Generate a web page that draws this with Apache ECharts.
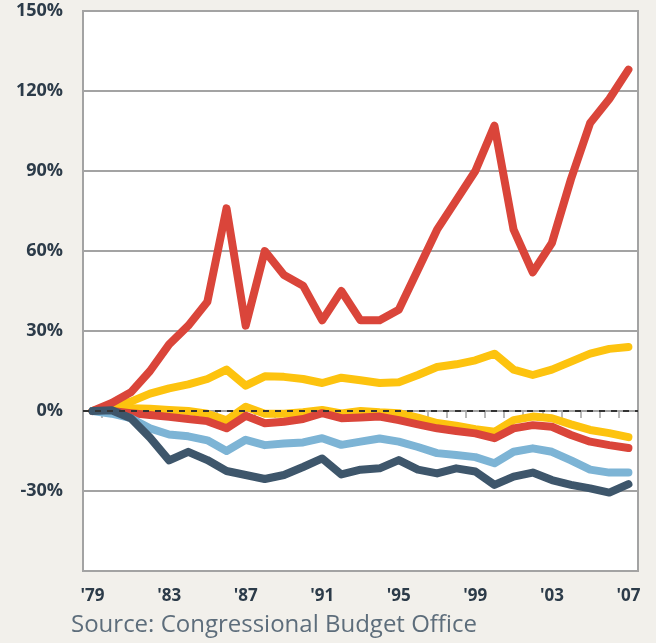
<!DOCTYPE html>
<html>
<head>
<meta charset="utf-8">
<script src="https://cdn.jsdelivr.net/npm/echarts@6/dist/echarts.min.js"></script>
<style>
  html, body { margin: 0; padding: 0; background: #f2f0eb; }
  #income-chart { width: 656px; height: 643px; }
</style>
</head>
<body>
<div id="income-chart"></div>
<script>
// years '79 - '07
var years = ["'79", "'80", "'81", "'82", "'83", "'84", "'85", "'86", "'87", "'88", "'89", "'90", "'91", "'92",
  "'93", "'94", "'95", "'96", "'97", "'98", "'99", "'00", "'01", "'02", "'03", "'04", "'05", "'06", "'07"];

var yTicks = [-60, -30, 0, 30, 60, 90, 120, 150];

// change since 1979, in percent
var redTop = [0, 3, 7, 15, 25, 32, 41, 76, 32, 60, 51, 47, 34, 45, 34, 34, 38, 53, 68, 79, 90, 107, 68, 52, 63, 87, 108, 117, 128];
var yellowTop = [0, 1.5, 3.5, 6.5, 8.5, 10, 12, 15.5, 9.5, 13, 12.8, 12, 10.5, 12.5, 11.5, 10.5, 10.8, 13.5, 16.5, 17.5, 19, 21.5, 15.5, 13.5, 15.5, 18.5, 21.5, 23.3, 24];
var yellowLow = [0, 1, 1, 0.8, 0.4, 0, -1, -3.5, 1.6, -1, -1, -0.5, 0.4, -0.9, 0, -0.5, -0.8, -2.5, -4.5, -5.5, -6.8, -7.8, -3.4, -2.1, -2.7, -5, -7.1, -8.3, -9.8];
var redLow = [0, 0, -0.8, -1.5, -2.2, -3, -3.8, -6.5, -1.8, -4.6, -4, -3, -0.8, -2.7, -2.4, -2.1, -3.4, -5, -6.5, -7.5, -8.4, -10.2, -6.5, -5.3, -5.9, -9, -11.5, -12.8, -13.9];
var blueLight = [0, -1, -2.7, -6.5, -8.8, -9.5, -11, -15, -10.8, -12.8, -12.2, -11.8, -10.2, -12.7, -11.5, -10.3, -11.5, -13.5, -15.8, -16.5, -17.3, -19.6, -15.3, -14, -15.3, -18.5, -22, -23.1, -23.1];
var blueDark = [0, 0.3, -2.7, -10, -18.5, -15.3, -18.4, -22.5, -24, -25.5, -24, -21, -17.8, -23.8, -22, -21.5, -18.4, -22, -23.4, -21.5, -22.7, -27.7, -24.6, -23.1, -25.9, -27.7, -29, -30.6, -27.4];

var myChart = echarts.init(document.getElementById("income-chart"));

function lineSeries(name, data, color) {
  return {
    name: name,
    type: 'line',
    data: data,
    symbol: 'none',
    z: 3,
    lineStyle: { color: color, width: 8, cap: 'round', join: 'round' },
    itemStyle: { color: color }
  };
}

// gray grid lines, none at 0 (dashed line there instead)
var splitColors = yTicks.map(function (v) { return v === 0 ? 'rgba(0,0,0,0)' : '#a3a3a3'; });

var option = {
  backgroundColor: '#f2f0eb',
  animation: false,
  title: {
    text: 'Source: Congressional Budget Office',
    left: 66,
    top: 608,
    textStyle: {
      color: '#5d6d7b',
      fontSize: 24,
      fontWeight: 'normal',
      fontFamily: 'Open Sans'
    }
  },
  grid: {
    left: 83,
    right: 18,
    top: 11,
    bottom: 72,
    show: true,
    backgroundColor: '#ffffff',
    borderColor: '#a3a3a3',
    borderWidth: 2
  },
  xAxis: {
    type: 'category',
    data: years,
    boundaryGap: true,
    axisLine: { lineStyle: { color: '#a3a3a3', width: 2 } },
    axisTick: { show: true, interval: 0, length: 7, lineStyle: { color: '#a3a3a3', width: 1.5 } },
    axisLabel: {
      interval: 3,
      margin: 17,
      color: '#2c3b49',
      fontSize: 17,
      fontWeight: 'bold',
      fontFamily: 'Open Sans'
    },
    splitLine: { show: false }
  },
  yAxis: {
    type: 'value',
    min: -60,
    max: 150,
    interval: 30,
    axisLine: { show: true, lineStyle: { color: '#a3a3a3', width: 2 } },
    axisTick: { show: false },
    axisLabel: {
      formatter: function (v) { return v === -60 ? '' : v + '%'; },
      margin: 20,
      color: '#2c3b49',
      fontSize: 18,
      fontWeight: 'bold',
      fontFamily: 'Open Sans'
    },
    splitLine: { show: true, lineStyle: { color: splitColors, width: 2 } }
  },
  series: [
    {
      name: 'baseline',
      type: 'line',
      data: [],
      z: 1,
      silent: true,
      markLine: {
        symbol: 'none',
        silent: true,
        label: { show: false },
        lineStyle: { color: '#333333', type: [6, 6], width: 2 },
        data: [{ yAxis: 0 }]
      }
    },
    lineSeries('yellow top', yellowTop, '#fdc30f'),
    lineSeries('yellow low', yellowLow, '#fdc30f'),
    lineSeries('red top', redTop, '#da453a'),
    lineSeries('red low', redLow, '#da453a'),
    lineSeries('light blue', blueLight, '#7db4d5'),
    lineSeries('dark blue', blueDark, '#3e566b')
  ]
};

myChart.setOption(option);

window.addEventListener("resize", function () {
  myChart.resize();
});
</script>
</body>
</html>
